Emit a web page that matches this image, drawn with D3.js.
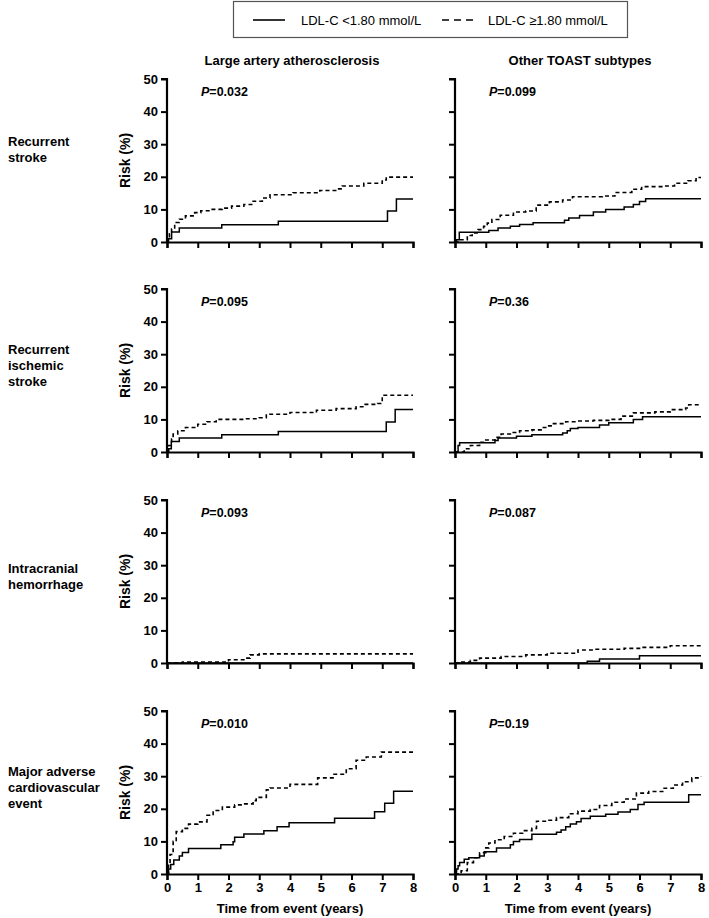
<!DOCTYPE html>
<html>
<head>
<meta charset="UTF-8">
<script src="https://cdn.jsdelivr.net/npm/d3@7"></script>
<style>
  body { margin: 0; background: #fff; }
  text { font-family: "Liberation Sans", Arial, sans-serif; fill: #000; }
</style>
</head>
<body>
<svg id="chart" width="709" height="918"></svg>
<script>
// column / row labels
const columns = ["Large artery atherosclerosis", "Other TOAST subtypes"];
const rowLabels = [["Recurrent", "stroke"], ["Recurrent", "ischemic", "stroke"], ["Intracranial", "hemorrhage"], ["Major adverse", "cardiovascular", "event"]];
const pValues = [["0.032", "0.099"], ["0.095", "0.36"], ["0.093", "0.087"], ["0.010", "0.19"]];
const legendLabels = ["LDL-C <1.80 mmol/L", "LDL-C \u22651.80 mmol/L"];
const xTicks = [0, 1, 2, 3, 4, 5, 6, 7, 8];
const yTicks = [0, 10, 20, 30, 40, 50];

// step curves, [years, risk %]
const strokeLaaLow = [[0,0],[0.05,1],[0.15,3.1],[0.4,4.3],[1.78,5.3],[3.62,6.4],[7.17,9.5],[7.46,13.2],[8,13.2]];
const strokeLaaHigh = [[0,0],[0.02,1],[0.08,2.5],[0.15,4],[0.25,6],[0.4,7],[0.6,8],[0.9,9],[1.1,9.6],[1.4,10],[1.8,10.4],[2.1,11],[2.5,11.5],[2.8,12.5],[3.1,13.5],[3.35,14.5],[4.1,15.1],[4.97,15.8],[5.55,16.3],[5.7,17.2],[6.4,18],[7.0,19],[7.13,19.9],[8,19.9]];
const strokeOtherLow = [[0,0],[0.05,0.7],[0.14,3],[1.1,3.5],[1.4,4.3],[1.8,4.8],[2.1,5.4],[2.54,5.9],[3.56,6.7],[3.7,7.4],[4.05,8.1],[4.5,9.2],[4.9,10],[5.5,10.7],[5.8,11.5],[6.0,12.4],[6.2,13.3],[8,13.3]];
const strokeOtherHigh = [[0,0],[0.18,0.7],[0.4,2],[0.56,2.8],[0.75,3.8],[0.93,4.8],[1.05,5.8],[1.2,6.9],[1.47,8.2],[1.9,9.2],[2.3,9.5],[2.64,11.3],[3.07,12.3],[3.5,12.9],[3.82,13.9],[4.79,14.1],[5.2,15.2],[5.75,16.2],[6.07,17],[6.8,17.2],[7.14,18],[7.57,18.8],[7.84,19.8],[8,19.8]];

const ischLaaLow = [[0,0],[0.05,1],[0.14,3.2],[0.4,4.3],[1.78,5.3],[3.62,6.3],[7.13,9.2],[7.42,13],[8,13]];
const ischLaaHigh = [[0,0],[0.05,2],[0.15,4],[0.2,5.5],[0.35,6.5],[0.6,7.5],[1.0,8.5],[1.3,9.3],[1.6,10],[2.5,10.2],[3.0,10.5],[3.23,11.6],[4.0,12.1],[4.86,12.8],[5.5,13.3],[6.15,13.9],[6.4,14.6],[6.85,14.9],[7.0,17.4],[8,17.4]];
const ischOtherLow = [[0,0],[0.1,2],[0.15,2.8],[1.3,3.5],[1.4,4.3],[2.0,4.8],[2.5,5.3],[3.5,5.8],[3.65,6.5],[3.75,7.2],[4.0,7.5],[4.7,8.3],[5.0,9],[5.8,10],[6.1,10.8],[8,10.8]];
const ischOtherHigh = [[0,0],[0.3,1],[0.5,2],[0.8,3],[1.0,3.7],[1.3,4.5],[1.5,5.5],[1.8,6],[2.1,6.5],[2.5,6.8],[2.8,7.5],[3.0,8],[3.2,8.7],[3.6,9.3],[4.0,9.5],[4.5,9.7],[5.0,10],[5.4,11],[5.8,12],[6.5,12.3],[7.0,13],[7.5,13.5],[7.6,14.5],[8,14.5]];

const ichLaaLow = [[0,0],[8,0]];
const ichLaaHigh = [[0,0],[0.5,0.3],[2.0,1],[2.5,1.5],[2.7,2.5],[3.0,2.8],[8,2.8]];
const ichOtherLow = [[0,0],[4.3,0.5],[4.7,1.2],[6.0,2.2],[8,2.2]];
const ichOtherHigh = [[0,0],[0.1,0.3],[0.5,0.8],[0.8,1.5],[1.5,2],[2.3,2.5],[3.0,3],[4.0,4],[4.5,4.2],[5.5,4.5],[6.0,4.8],[7.0,5.3],[8,5.3]];

const maceLaaLow = [[0,0],[0.05,1.5],[0.12,2.9],[0.22,4.3],[0.4,5.5],[0.5,6.6],[0.7,7.8],[1.75,9],[2.15,9.9],[2.2,11.3],[2.5,12.3],[3.15,13.3],[3.58,14.5],[3.97,15.7],[5.45,17.1],[6.75,19.1],[7.08,21.7],[7.37,25.4],[8,25.4]];
const maceLaaHigh = [[0,0],[0.05,3],[0.1,6],[0.2,10],[0.3,13],[0.5,14],[0.7,15.3],[1.0,16],[1.3,18],[1.5,19.5],[1.8,20.5],[2.2,21.2],[2.5,21.5],[2.8,22.5],[2.9,23.5],[3.23,25.8],[3.35,26.4],[4.0,27.5],[4.9,29.5],[5.4,30.6],[5.83,32.3],[6.15,34.9],[6.48,35.9],[6.97,37.4],[8,37.4]];
const maceOtherLow = [[0,0],[0.05,1.5],[0.1,2.5],[0.15,3.5],[0.3,4.5],[0.45,5],[0.8,5.5],[0.95,6.8],[1.35,8],[1.8,9],[1.9,10],[2.1,10.6],[2.5,12.2],[3.3,12.8],[3.45,13.5],[3.6,14.5],[3.75,15.3],[3.95,16],[4.1,17],[4.4,17.7],[4.9,18.3],[5.3,19],[5.7,19.8],[5.95,21.3],[6.15,22],[7.6,24.3],[8,24.3]];
const maceOtherHigh = [[0,0],[0.2,1],[0.4,3.5],[0.6,5],[0.8,6.5],[1.0,8],[1.1,9.5],[1.3,10.5],[1.6,11.5],[1.9,12.5],[2.2,13.3],[2.5,14],[2.65,16.2],[3.0,16.5],[3.3,17.3],[3.7,18.5],[4.0,19.3],[4.4,19.8],[4.7,21],[5.1,22],[5.5,23],[5.9,24.8],[6.3,25.3],[6.8,26.3],[7.1,27.3],[7.4,28.3],[7.7,29.5],[8,29.8]];

const curves = [
  [[strokeLaaLow, strokeLaaHigh], [strokeOtherLow, strokeOtherHigh]],
  [[ischLaaLow, ischLaaHigh], [ischOtherLow, ischOtherHigh]],
  [[ichLaaLow, ichLaaHigh], [ichOtherLow, ichOtherHigh]],
  [[maceLaaLow, maceLaaHigh], [maceOtherLow, maceOtherHigh]]
];

const svg = d3.select("#chart");
svg.append("rect").attr("width", 709).attr("height", 918).attr("fill", "#fff");

const colX = [167, 455];
const rowY = [79, 289, 500, 711];
const labelShift = [-6, 0, 0, 0];
const W = 246, H = 163;
const x = d3.scaleLinear().domain([0, 8]).range([0, W]);
const y = d3.scaleLinear().domain([0, 50]).range([H, 0]);
const line = d3.line().x(d => x(d[0])).y(d => y(d[1])).curve(d3.curveStepAfter);

// legend
const lg = svg.append("g");
lg.append("rect").attr("x", 233.5).attr("y", 1.5).attr("width", 394).attr("height", 36)
  .attr("fill", "none").attr("stroke", "#555").attr("stroke-width", 1.2);
lg.append("line").attr("x1", 253).attr("x2", 285).attr("y1", 20).attr("y2", 20).attr("stroke", "#000").attr("stroke-width", 1.6);
lg.append("text").attr("x", 301).attr("y", 24.5).attr("font-size", 13).text(legendLabels[0]);
lg.append("line").attr("x1", 442).attr("x2", 475).attr("y1", 20).attr("y2", 20).attr("stroke", "#000").attr("stroke-width", 1.6).attr("stroke-dasharray", "7,5");
lg.append("text").attr("x", 488).attr("y", 24.5).attr("font-size", 13).text(legendLabels[1]);

// column titles
columns.forEach((c, j) => {
  svg.append("text").attr("x", colX[j] + W / 2 + 2).attr("y", 65).attr("text-anchor", "middle")
    .attr("font-size", 13).attr("font-weight", "bold").text(c);
});

rowY.forEach((ry, i) => {
  // row label
  const lines = rowLabels[i];
  const t = svg.append("text").attr("font-size", 13).attr("font-weight", "bold");
  const y0 = ry + H / 2 - 5 + labelShift[i] - (lines.length - 1) * 16 / 2;
  lines.forEach((s, k) => t.append("tspan").attr("x", 8).attr("y", y0 + k * 16 + 4).text(s));

  colX.forEach((cx, j) => {
    const g = svg.append("g").attr("transform", `translate(${cx},${ry})`);

    const ya = g.append("g").call(d3.axisLeft(y).tickValues(yTicks).tickSize(6).tickFormat(j === 0 ? d3.format("d") : ""));
    const xa = g.append("g").attr("transform", `translate(0,${H})`)
      .call(d3.axisBottom(x).tickValues(xTicks).tickSize(6).tickFormat(i === 3 ? d3.format("d") : ""));
    [ya, xa].forEach(a => {
      a.select(".domain").attr("stroke", "#000").attr("stroke-width", 2.2);
      a.selectAll(".tick line").attr("stroke", "#000").attr("stroke-width", 2);
      a.selectAll(".tick text").attr("font-size", 13).attr("font-weight", "bold")
        .attr("font-family", '"Liberation Sans", Arial, sans-serif');
    });
    ya.selectAll(".tick text").attr("x", -9);
    xa.selectAll(".tick text").attr("y", 9);
    ya.select(".domain").attr("d", `M-6,0H0V${H}`);

    if (j === 0) {
      g.append("text").attr("transform", `translate(-37,${H / 2}) rotate(-90)`).attr("text-anchor", "middle")
        .attr("font-size", 14).attr("font-weight", "bold").text("Risk (%)");
    }
    if (i === 3) {
      g.append("text").attr("x", W / 2).attr("y", H + 39).attr("text-anchor", "middle")
        .attr("font-size", 13).attr("font-weight", "bold").text("Time from event (years)");
    }

    const p = g.append("text").attr("x", 34).attr("y", 17).attr("font-size", 12.5).attr("font-weight", "bold");
    p.append("tspan").attr("font-style", "italic").text("P");
    p.append("tspan").text("=" + pValues[i][j]);

    const [low, high] = curves[i][j];
    g.append("path").datum(high).attr("d", line).attr("fill", "none").attr("stroke", "#000")
      .attr("stroke-width", 1.6).attr("stroke-dasharray", "4,3");
    g.append("path").datum(low).attr("d", line).attr("fill", "none").attr("stroke", "#000")
      .attr("stroke-width", 1.5);
  });
});
</script>
</body>
</html>
